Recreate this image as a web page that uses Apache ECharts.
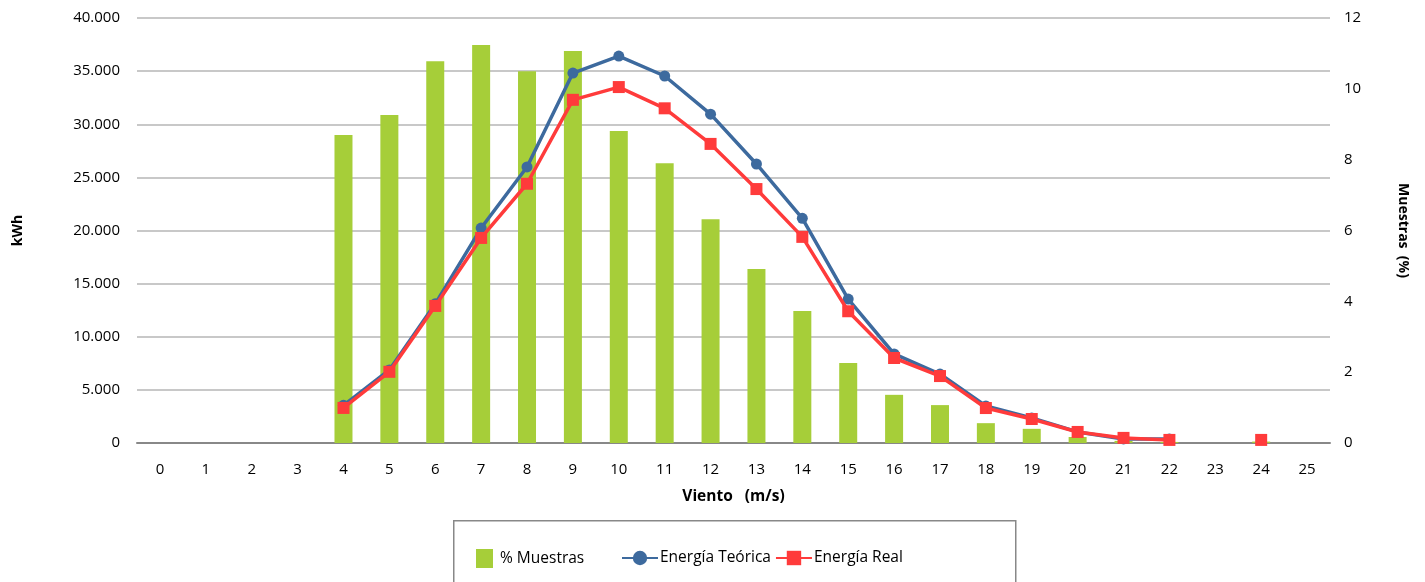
<!DOCTYPE html>
<html>
<head>
<meta charset="utf-8">
<script src="https://cdn.jsdelivr.net/npm/echarts@6/dist/echarts.min.js"></script>
<style>
html,body{margin:0;padding:0;background:#fff;}
#chart{width:1425px;height:582px;}
</style>
</head>
<body>
<div id="chart"></div>
<script>
const categories = ['0','1','2','3','4','5','6','7','8','9','10','11','12','13','14','15','16','17','18','19','20','21','22','23','24','25'];
const muestras = [0,0,0,0,8.70,9.26,10.78,11.24,10.50,11.07,8.81,7.90,6.32,4.91,3.73,2.26,1.36,1.07,0.56,0.40,0.17,0.06,0.03,0,0.04,0];
const energiaTeorica = [null,null,null,null,3550,6870,13100,20230,25980,34820,36420,34540,30950,26260,21150,13550,8380,6490,3480,2350,1040,380,380,null,null,null];
const energiaReal = [null,null,null,null,3300,6700,12900,19300,24400,32300,33500,31500,28150,23900,19400,12400,8000,6300,3290,2260,1040,480,290,null,290,null];
const leftTicks = {min:0, max:40000, interval:5000};
const rightTicks = {min:0, max:12, interval:2};

const FONT = '"Open Sans", "Noto Sans", sans-serif';
const chart = echarts.init(document.getElementById('chart'));
const fmtThousands = v => v === 0 ? '0' : String(v).replace(/\B(?=(\d{3})+(?!\d))/g, '.');

chart.setOption({
  animation: false,
  textStyle: {fontFamily: FONT, color: '#000'},
  grid: {left: 137, right: 95, top: 18, bottom: 139, containLabel: false},
  graphic: [{
    type: 'rect',
    left: 453, top: 520,
    shape: {width: 562, height: 80},
    style: {fill: '#fff', stroke: '#888', lineWidth: 1.5}
  }],
  legend: [{
    left: 471, top: 544,
    itemWidth: 17, itemHeight: 19,
    textStyle: {fontFamily: FONT, fontSize: 15.5, color: '#000', padding: [0,0,0,2]},
    data: [{name: '% Muestras', icon: 'rect'}]
  }, {
    left: 616, top: 545,
    itemGap: 4,
    itemWidth: 36, itemHeight: 18,
    textStyle: {fontFamily: FONT, fontSize: 15.5, color: '#000', padding: [0,0,0,-3]},
    data: [{name: 'Energía Teórica'}, {name: 'Energía Real'}]
  }],
  xAxis: {
    type: 'category',
    data: categories,
    name: 'Viento   (m/s)',
    nameLocation: 'middle',
    nameGap: 46,
    nameTextStyle: {fontFamily: FONT, fontSize: 15.5, fontWeight: 'bold', color: '#000'},
    axisLine: {lineStyle: {color: '#888', width: 2}},
    axisTick: {show: false},
    axisLabel: {fontFamily: FONT, fontSize: 15, color: '#000', margin: 19}
  },
  yAxis: [{
    type: 'value',
    min: leftTicks.min, max: leftTicks.max, interval: leftTicks.interval,
    name: 'kWh',
    nameLocation: 'middle',
    nameGap: 112,
    nameRotate: 90,
    nameTextStyle: {fontFamily: FONT, fontSize: 14, fontWeight: 'bold', color: '#000'},
    axisLine: {show: false},
    axisTick: {show: false},
    splitLine: {lineStyle: {color: '#c8c8c8', width: 2}},
    axisLabel: {fontFamily: FONT, fontSize: 15, color: '#000', margin: 17, formatter: fmtThousands}
  }, {
    type: 'value',
    min: rightTicks.min, max: rightTicks.max, interval: rightTicks.interval,
    name: 'Muestras  (%)',
    nameLocation: 'middle',
    nameGap: 66,
    nameRotate: -90,
    nameTextStyle: {fontFamily: FONT, fontSize: 14, fontWeight: 'bold', color: '#000'},
    axisLine: {show: false},
    axisTick: {show: false},
    splitLine: {show: false},
    axisLabel: {fontFamily: FONT, fontSize: 15, color: '#000', margin: 14}
  }],
  series: [{
    name: '% Muestras',
    type: 'bar',
    yAxisIndex: 1,
    data: muestras,
    barWidth: 18,
    itemStyle: {color: '#A6CE39'}
  }, {
    name: 'Energía Teórica',
    type: 'line',
    yAxisIndex: 0,
    data: energiaTeorica,
    symbol: 'circle',
    symbolSize: 11,
    lineStyle: {color: '#3D6A9E', width: 3.5},
    itemStyle: {color: '#3D6A9E'},
    z: 3
  }, {
    name: 'Energía Real',
    type: 'line',
    yAxisIndex: 0,
    data: energiaReal,
    connectNulls: false,
    symbol: 'rect',
    symbolSize: 12,
    lineStyle: {color: '#FF3B3B', width: 3.5},
    itemStyle: {color: '#FF3B3B'},
    z: 4
  }]
});
</script>
</body>
</html>
